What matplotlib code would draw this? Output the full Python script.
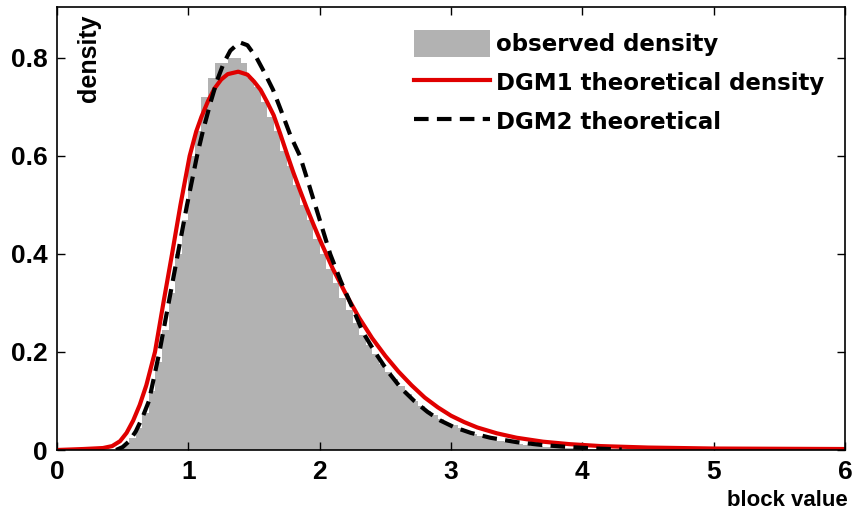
import numpy as np
import matplotlib
matplotlib.use("Agg")
import matplotlib.pyplot as plt

# ---------------- data ----------------
bin_width = 0.05
hist_x = np.round(np.arange(0.475, 4.30, 0.05), 3)
hist_y = [
    0.005, 0.012, 0.025, 0.045, 0.075, 0.12, 0.18, 0.245, 0.32, 0.40,      # 0.475-0.925
    0.47, 0.60, 0.65, 0.72, 0.76, 0.79, 0.79, 0.80, 0.80, 0.79,           # 0.975-1.425
    0.76, 0.74, 0.71, 0.68, 0.65, 0.61, 0.58, 0.54, 0.50, 0.47,           # 1.475-1.925
    0.43, 0.40, 0.37, 0.34, 0.31, 0.285, 0.26, 0.235, 0.215, 0.195,       # 1.975-2.425
    0.175, 0.16, 0.145, 0.13, 0.115, 0.10, 0.09, 0.08, 0.072, 0.064,      # 2.475-2.925
    0.056, 0.05, 0.044, 0.038, 0.033, 0.029, 0.025, 0.022, 0.019, 0.016,  # 2.975-3.425
    0.014, 0.012, 0.010, 0.009, 0.008, 0.007, 0.006, 0.005, 0.004, 0.004, # 3.475-3.925
    0.003, 0.003, 0.002, 0.002, 0.002, 0.001, 0.001,                      # 3.975-4.275
]

dgm1_x = [0.0, 0.2, 0.35, 0.42, 0.48, 0.53, 0.58, 0.63, 0.68, 0.746, 0.81, 0.876,
          0.94, 1.01, 1.06, 1.10, 1.15, 1.20, 1.25, 1.30, 1.38, 1.45, 1.50, 1.55,
          1.60, 1.65, 1.70, 1.75, 1.80, 1.85, 1.90, 1.95, 2.00, 2.05, 2.10, 2.20,
          2.30, 2.40, 2.50, 2.60, 2.70, 2.80, 2.90, 3.00, 3.10, 3.20, 3.35, 3.50,
          3.70, 3.90, 4.14, 4.50, 5.00, 6.00]
dgm1_y = [0.0, 0.002, 0.004, 0.008, 0.018, 0.035, 0.06, 0.092, 0.132, 0.20, 0.30, 0.40,
          0.50, 0.60, 0.65, 0.68, 0.712, 0.738, 0.756, 0.767, 0.772, 0.766, 0.752, 0.735,
          0.710, 0.683, 0.645, 0.605, 0.566, 0.530, 0.495, 0.462, 0.430, 0.400, 0.370, 0.318,
          0.270, 0.228, 0.192, 0.160, 0.132, 0.107, 0.087, 0.070, 0.057, 0.046, 0.034, 0.025,
          0.017, 0.012, 0.008, 0.005, 0.003, 0.002]

dgm2_x = [0.45, 0.50, 0.55, 0.60, 0.65, 0.70, 0.78, 0.85, 0.92, 0.99, 1.066, 1.11,
          1.17, 1.22, 1.27, 1.32, 1.39, 1.45, 1.52, 1.58, 1.645, 1.71, 1.78, 1.85,
          1.92, 2.00, 2.08, 2.16, 2.25, 2.33, 2.42, 2.52, 2.62, 2.72, 2.82, 2.92,
          3.02, 3.15, 3.30, 3.50, 3.70, 3.90, 4.10, 4.30]
dgm2_y = [0.0, 0.006, 0.018, 0.038, 0.066, 0.10, 0.20, 0.30, 0.40, 0.50, 0.60, 0.65,
          0.71, 0.755, 0.79, 0.815, 0.832, 0.826, 0.80, 0.77, 0.735, 0.69, 0.64, 0.60,
          0.54, 0.47, 0.40, 0.345, 0.29, 0.24, 0.20, 0.16, 0.126, 0.10, 0.078, 0.06,
          0.047, 0.035, 0.025, 0.016, 0.010, 0.006, 0.003, 0.001]

x_ticks = [0, 1, 2, 3, 4, 5, 6]
y_ticks = [0, 0.2, 0.4, 0.6, 0.8]
y_tick_labels = ["0", "0.2", "0.4", "0.6", "0.8"]
labels = ["observed density", "DGM1 theoretical density", "DGM2 theoretical"]

# ---------------- figure ----------------
W, H = 852, 515
fig = plt.figure(figsize=(W / 100, H / 100), dpi=100)
ax = fig.add_axes([57 / W, 1 - 450 / H, (845 - 57) / W, (450 - 7) / H])

tickfont = ["Liberation Sans", "DejaVu Sans"]

bars = ax.bar(hist_x, hist_y, width=bin_width, color="#b2b2b2", linewidth=0,
              align="center", label=labels[0], zorder=1)
l1, = ax.plot(dgm1_x, dgm1_y, color="#e00000", lw=3.0, label=labels[1], zorder=2)
l2, = ax.plot(dgm2_x, dgm2_y, color="black", lw=3.0, ls=(0, (3.5, 2.0)),
              label=labels[2], zorder=3)

ax.set_xlim(0, 6)
ax.set_ylim(0, 0.904)
ax.set_xticks(x_ticks)
ax.set_xticklabels([str(t) for t in x_ticks], family=tickfont, fontweight="bold", fontsize=19)
ax.set_yticks(y_ticks)
ax.set_yticklabels(y_tick_labels, family=tickfont, fontweight="bold", fontsize=19)
ax.tick_params(direction="in", length=6, width=1.0, top=True, right=True, pad=7)
for s in ax.spines.values():
    s.set_linewidth(1.2)

fig.text(89 / W, 1 - 14 / H, "density", rotation=90, ha="center", va="top",
         family=tickfont, fontweight="bold", fontsize=18)
fig.text(848 / W, 1 - 511 / H, "block value", ha="right", va="bottom",
         family=tickfont, fontweight="bold", fontsize=16)

leg = ax.legend([bars, l1, l2], labels, loc="upper left",
                bbox_to_anchor=(414 / W, 1 - 30 / H), bbox_transform=fig.transFigure,
                frameon=False, prop={"family": "DejaVu Sans", "weight": "bold", "size": 16.5},
                handlelength=3.3, handleheight=1.45, handletextpad=0.3,
                labelspacing=0.52, borderpad=0, borderaxespad=0)

fig.savefig("out.png", dpi=100)
